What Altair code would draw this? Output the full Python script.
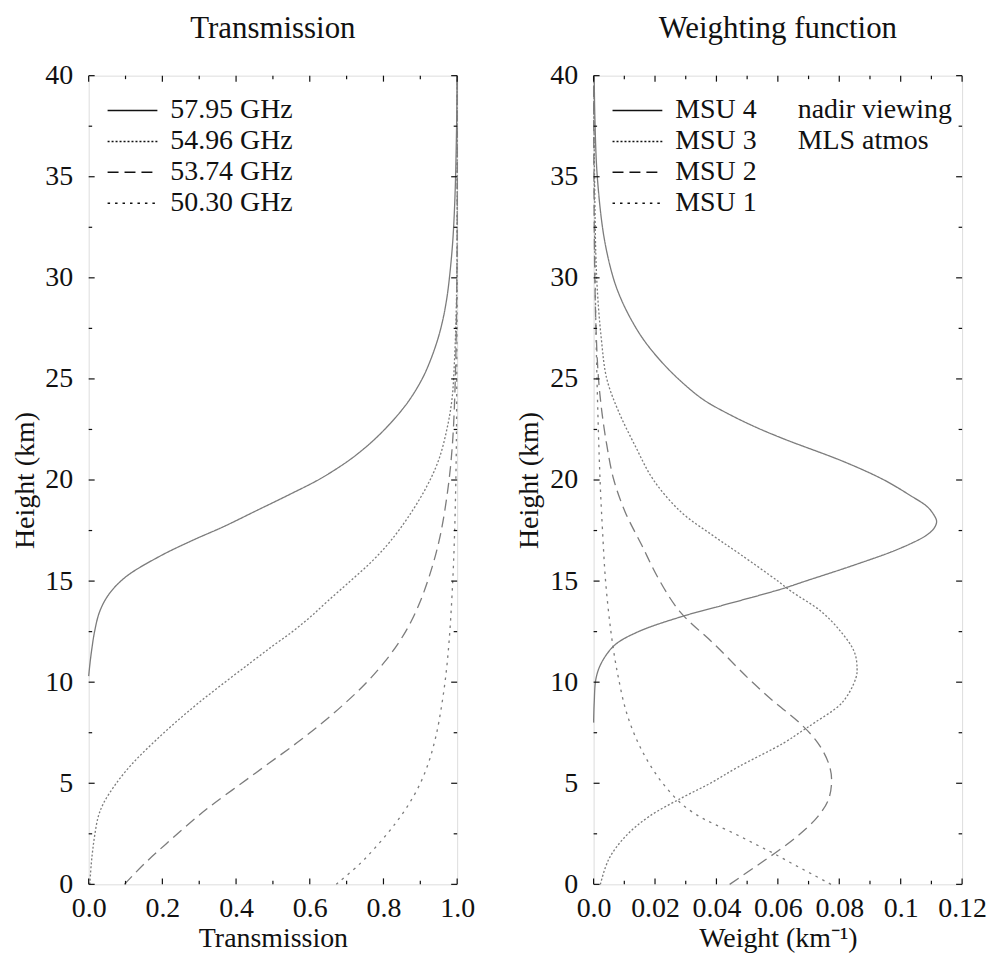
import altair as alt
import pandas as pd

FONT = "Liberation Serif"
INK = "#111111"
CURVE = "#7c7c7c"

# ---------------- data: transmission (left panel) ----------------
freq_labels = ["57.95 GHz", "54.96 GHz", "53.74 GHz", "50.30 GHz"]

h_5795 = [10.3, 11.0, 11.7, 12.5, 13.5, 14.35, 15.2, 16.2, 17.0, 17.7, 18.5, 19.3, 20.1,
          21.1, 22.1, 23.2, 24.0, 25.0, 25.9, 27.0, 28.0, 29.0, 30.0, 31.8, 34.0, 37.0, 40.0]
t_5795 = [0.0, 0.004, 0.009, 0.016, 0.03, 0.055, 0.1, 0.19, 0.28, 0.367, 0.457, 0.547, 0.632,
          0.716, 0.781, 0.838, 0.872, 0.905, 0.927, 0.948, 0.962, 0.972, 0.979, 0.988, 0.994,
          0.998, 1.0]

h_5496 = [0, 1, 1.7, 2.5, 3.35, 4, 5, 6, 7, 8, 9, 10, 11, 11.8, 12.5, 13.2, 14, 15, 16, 17,
          18.3, 19.7, 21, 22.5, 24, 26, 28, 30, 33, 36, 40]
t_5496 = [0.003, 0.007, 0.011, 0.017, 0.026, 0.04, 0.075, 0.12, 0.175, 0.235, 0.3, 0.37, 0.442,
          0.5, 0.553, 0.6, 0.648, 0.71, 0.77, 0.82, 0.872, 0.918, 0.95, 0.972, 0.986, 0.993,
          0.997, 0.999, 1.0, 1.0, 1.0]

h_5374 = [0, 1, 2, 3.35, 4, 5, 6, 7, 8, 9, 10, 11, 12, 13, 14, 15, 16, 17, 18, 20, 22, 25,
          28, 32, 40]
t_5374 = [0.097, 0.15, 0.21, 0.295, 0.34, 0.415, 0.49, 0.565, 0.635, 0.698, 0.755, 0.803, 0.843,
          0.875, 0.9, 0.92, 0.937, 0.951, 0.962, 0.978, 0.988, 0.995, 0.998, 1.0, 1.0]

h_5030 = [0, 1, 1.7, 2.5, 3.2, 4, 5, 6, 7, 8, 10, 12, 15, 18, 22, 26, 30, 40]
t_5030 = [0.672, 0.735, 0.772, 0.81, 0.84, 0.87, 0.9, 0.922, 0.938, 0.95, 0.967, 0.978,
          0.988, 0.994, 0.998, 0.999, 1.0, 1.0]

# ---------------- data: weighting functions (right panel) ----------------
msu_labels = ["MSU 4", "MSU 3", "MSU 2", "MSU 1"]

h_msu4 = [8.0, 9.0, 10.2, 11.0, 11.85, 12.5, 13.24, 13.8, 14.6, 15.0, 15.8, 16.6, 17.25, 17.6,
          17.95, 18.3, 18.7, 19.2, 20.0, 20.9, 22.0, 22.6, 23.3, 24.0, 25.0, 26.0, 27.0, 28.0,
          29.0, 30.0, 32.0, 35.0, 38.0, 40.0]
w_msu4 = [0.0, 0.0002, 0.0008, 0.0027, 0.007, 0.0146, 0.0286, 0.042, 0.061, 0.069, 0.085,
          0.0995, 0.1082, 0.1108, 0.1117, 0.1107, 0.1085, 0.1035, 0.0946, 0.0816, 0.0625,
          0.053, 0.0435, 0.0355, 0.0276, 0.0212, 0.016, 0.012, 0.0088, 0.0064, 0.0034, 0.0012,
          0.0004, 0.0002]

h_msu3 = [0, 1.23, 2.36, 3.35, 4.3, 5.0, 5.8, 7.0, 7.6, 8.0, 9.0, 10.2, 10.7, 11.5, 12.5, 13.5,
          14.5, 15.0, 16.3, 17.3, 18.4, 20.0, 21.7, 23.4, 25.0, 27.0, 30.0, 35.0, 40.0]
w_msu3 = [0.0022, 0.0049, 0.0103, 0.018, 0.029, 0.038, 0.047, 0.062, 0.068, 0.072, 0.081,
          0.0854, 0.0858, 0.0849, 0.0805, 0.0741, 0.0643, 0.06, 0.048, 0.0384, 0.0286, 0.0195,
          0.0135, 0.0081, 0.0043, 0.0025, 0.001, 0.0003, 0.0001]

h_msu2 = [0, 0.8, 1.54, 2.4, 3.35, 4.2, 5.2, 6.0, 7.0, 8.0, 9.0, 10.2, 11.85, 13.49, 15.13,
          16.77, 18.41, 20.05, 21.72, 23.36, 25.0, 27.0, 30.0, 35.0, 40.0]
w_msu2 = [0.0443, 0.052, 0.059, 0.0665, 0.073, 0.0765, 0.0775, 0.0765, 0.073, 0.067, 0.059,
          0.0503, 0.0395, 0.0281, 0.0211, 0.0157, 0.0103, 0.0065, 0.0043, 0.0027, 0.0016,
          0.0009, 0.0004, 0.0001, 0.0]

h_msu1 = [0, 0.5, 1.0, 1.54, 2.0, 2.5, 3.0, 3.35, 4.0, 5.0, 6.0, 7.0, 8.0, 9.0, 10.2, 11.0,
          12.66, 15.0, 17.5, 20.0, 25.0, 30.0, 35.0, 40.0]
w_msu1 = [0.0773, 0.0712, 0.065, 0.0585, 0.0525, 0.046, 0.039, 0.0345, 0.0285, 0.0225, 0.018,
          0.0145, 0.0118, 0.0098, 0.0081, 0.0071, 0.0055, 0.0039, 0.0029, 0.0021, 0.0011,
          0.0005, 0.0002, 0.0001]

notes = ["nadir viewing", "MLS atmos"]

# ---------------- ticks / labels ----------------
y_major = [0, 5, 10, 15, 20, 25, 30, 35, 40]
y_minor = [2.5, 7.5, 12.5, 17.5, 22.5, 27.5, 32.5, 37.5]
x1_major = [0.0, 0.2, 0.4, 0.6, 0.8, 1.0]
x1_labels = ["0.0", "0.2", "0.4", "0.6", "0.8", "1.0"]
x1_minor = [0.1, 0.3, 0.5, 0.7, 0.9]
x2_major = [0.0, 0.02, 0.04, 0.06, 0.08, 0.1, 0.12]
x2_labels = ["0.0", "0.02", "0.04", "0.06", "0.08", "0.1", "0.12"]
x2_minor = [0.01, 0.03, 0.05, 0.07, 0.09, 0.11]

dash_patterns = [[1, 0], [2, 2], [11, 6], [2.5, 5]]

W, H = 370, 812
MAJ, MIN = 6, 3.5


def label_expr(vals, labels):
    return "[" + ",".join("'%s'" % l for l in labels) + "][indexof([" + \
        ",".join(repr(v) for v in vals) + "], datum.value)]"


def tick_layers(xs, ys, xmaj, xmin_, ymaj, ymin_):
    layers = []
    for vals, L in ((xmaj, MAJ), (xmin_, MIN)):
        base = alt.Chart(pd.DataFrame({"v": vals})).mark_rule(color=INK, strokeWidth=1.2)
        xe = alt.X("v:Q", scale=xs)
        layers.append(base.encode(x=xe, y=alt.value(H), y2=alt.value(H - L)))
        layers.append(base.encode(x=xe, y=alt.value(0), y2=alt.value(L)))
    for vals, L in ((ymaj, MAJ), (ymin_, MIN)):
        base = alt.Chart(pd.DataFrame({"v": vals})).mark_rule(color=INK, strokeWidth=1.2)
        ye = alt.Y("v:Q", scale=ys)
        layers.append(base.encode(y=ye, x=alt.value(0), x2=alt.value(L)))
        layers.append(base.encode(y=ye, x=alt.value(W - L), x2=alt.value(W)))
    return layers


def build_df(labels, hs, vs):
    rows = []
    for lab, hh, vv in zip(labels, hs, vs):
        for a, b in zip(hh, vv):
            rows.append({"series": lab, "h": a, "v": b})
    return pd.DataFrame(rows)


def panel(df, labels, xdom, xmaj, xlabels, xmin_, xtitle, title, ytitle_x, extra=None):
    xs = alt.Scale(domain=xdom, nice=False, zero=False)
    ys = alt.Scale(domain=[0, 40], nice=False, zero=False)
    x_axis = alt.Axis(values=xmaj, labelExpr=label_expr(xmaj, xlabels), ticks=False,
                      domain=False, grid=False, labelFlush=False, labelOverlap=False,
                      labelFont=FONT, labelFontSize=28, labelColor=INK, labelPadding=10,
                      title=xtitle, titleFont=FONT, titleFontSize=28, titleFontWeight="normal",
                      titleColor=INK, titleY=62, titleBaseline="alphabetic")
    y_axis = alt.Axis(values=y_major, format="d", ticks=False, domain=False, grid=False,
                      labelFlush=False, labelOverlap=False, labelFont=FONT, labelFontSize=28,
                      labelColor=INK, labelPadding=16, title="Height (km)", titleFont=FONT,
                      titleFontSize=28, titleFontWeight="normal", titleColor=INK,
                      titleX=ytitle_x, titleBaseline="middle")
    legend = alt.Legend(title=None, orient="none", legendX=18, legendY=19.5,
                        symbolType="stroke", symbolSize=2500, symbolStrokeWidth=1.5,
                        symbolStrokeColor=INK, labelFont=FONT, labelFontSize=28,
                        labelColor=INK, labelOffset=12, clipHeight=31, rowPadding=0,
                        padding=0, labelLimit=400)
    curves = alt.Chart(df).mark_line(color=CURVE, strokeWidth=1.3,
                                     interpolate="catmull-rom").encode(
        x=alt.X("v:Q", scale=xs, axis=x_axis),
        y=alt.Y("h:Q", scale=ys, axis=y_axis),
        strokeDash=alt.StrokeDash("series:N",
                                  scale=alt.Scale(domain=labels, range=dash_patterns),
                                  legend=legend),
        order=alt.Order("h:Q"),
    )
    layers = [curves] + tick_layers(xs, ys, xmaj, xmin_, y_major, y_minor)
    if extra:
        layers += extra
    return alt.layer(*layers).properties(
        width=W, height=H,
        title=alt.TitleParams(title, font=FONT, fontSize=31, fontWeight="normal", color=INK,
                              anchor="middle", frame="group", baseline="alphabetic",
                              offset=-7))


left_df = build_df(freq_labels, [h_5795, h_5496, h_5374, h_5030],
                   [t_5795, t_5496, t_5374, t_5030])
right_df = build_df(msu_labels, [h_msu4, h_msu3, h_msu2, h_msu1],
                    [w_msu4, w_msu3, w_msu2, w_msu1])

note_layers = []
for i, t in enumerate(notes):
    note_layers.append(
        alt.Chart(pd.DataFrame({"t": [t]})).mark_text(
            align="left", baseline="middle", font=FONT, fontSize=28, color=INK
        ).encode(text="t:N", x=alt.value(205), y=alt.value(35 + 30.5 * i))
    )

left = panel(left_df, freq_labels, [0, 1], x1_major, x1_labels, x1_minor,
             "Transmission", "Transmission", -63)
right = panel(right_df, msu_labels, [0, 0.12], x2_major, x2_labels, x2_minor,
              "Weight (km\u207b\u00b9)", "Weighting function", -64, note_layers)

chart = alt.hconcat(left, right, spacing=40).resolve_scale(
    strokeDash="independent"
).resolve_legend(strokeDash="independent").properties(
    padding={"left": 3, "top": 2, "right": 0, "bottom": 0}
).configure_view(stroke="#222222", strokeWidth=1.5).configure(background="white")

chart.save("out.html", embed_options={"renderer": "svg", "actions": False})
